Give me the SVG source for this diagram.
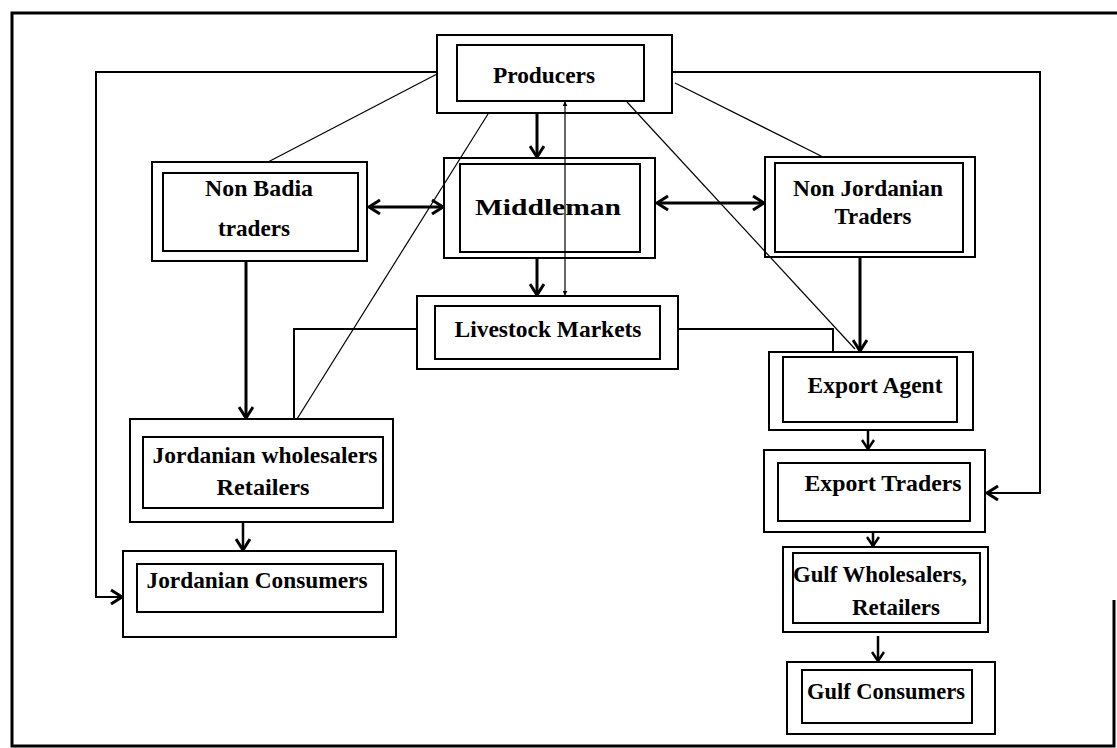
<svg xmlns="http://www.w3.org/2000/svg" width="1117" height="748" viewBox="0 0 1117 748">
<style>
  .box { fill: #fff; stroke: #000; stroke-width: 2; }
  .lbl { font-family: "Liberation Serif", "Times New Roman", serif; font-weight: bold; font-size: 24px; text-anchor: middle; fill: #000; }
  .thick { fill: none; stroke: #000; stroke-width: 3; }
  .mid { fill: none; stroke: #000; stroke-width: 2.5; }
  .loop { fill: none; stroke: #000; stroke-width: 2; }
  .thin { fill: none; stroke: #000; stroke-width: 1.2; }
</style>
<defs>
  <marker id="ah" viewBox="0 0 16 16" refX="14" refY="8" markerWidth="16" markerHeight="16" markerUnits="userSpaceOnUse" orient="auto-start-reverse">
    <path d="M3,1 L14,8 L3,15" fill="none" stroke="#000" stroke-width="3"/>
  </marker>
  <marker id="ahs" viewBox="0 0 14 14" refX="12" refY="7" markerWidth="14" markerHeight="14" markerUnits="userSpaceOnUse" orient="auto-start-reverse">
    <path d="M3,1 L12,7 L3,13" fill="none" stroke="#000" stroke-width="2.5"/>
  </marker>
  <marker id="tiny" viewBox="0 0 6 6" refX="5" refY="3" markerWidth="5" markerHeight="5" markerUnits="userSpaceOnUse" orient="auto-start-reverse">
    <path d="M0,0 L6,3 L0,6 z" fill="#000"/>
  </marker>
</defs>
<rect width="1117" height="748" fill="#fff"/>
<g id="frame">
  <path d="M1117,13 H12 V746 H1114 V600" fill="none" stroke="#000" stroke-width="3"/>
</g>

<g id="producers">
  <rect class="box" x="437" y="35" width="235" height="78"/>
  <rect class="box" x="457" y="45" width="187" height="56"/>
  <text class="lbl" x="544" y="83" textLength="102" lengthAdjust="spacingAndGlyphs">Producers</text>
</g>
<g id="non-badia">
  <rect class="box" x="152" y="162" width="215" height="99"/>
  <rect class="box" x="163" y="173" width="195" height="78"/>
  <text class="lbl" x="259" y="196" textLength="108" lengthAdjust="spacingAndGlyphs">Non Badia</text>
  <text class="lbl" x="254" y="236" textLength="72" lengthAdjust="spacingAndGlyphs">traders</text>
</g>
<g id="middleman">
  <rect class="box" x="444" y="158" width="211" height="100"/>
  <rect class="box" x="460" y="164" width="180" height="88"/>
  <text class="lbl" x="548" y="215" textLength="146" lengthAdjust="spacingAndGlyphs">Middleman</text>
</g>
<g id="non-jordanian">
  <rect class="box" x="765" y="157" width="210" height="100"/>
  <rect class="box" x="775" y="163" width="188" height="89"/>
  <text class="lbl" x="868" y="196" textLength="150" lengthAdjust="spacingAndGlyphs">Non Jordanian</text>
  <text class="lbl" x="873" y="224" textLength="77" lengthAdjust="spacingAndGlyphs">Traders</text>
</g>
<g id="livestock">
  <rect class="box" x="417" y="296" width="261" height="73"/>
  <rect class="box" x="435" y="306" width="225" height="53"/>
  <text class="lbl" x="548" y="337" textLength="187" lengthAdjust="spacingAndGlyphs">Livestock Markets</text>
</g>
<g id="jordanian-wholesalers">
  <rect class="box" x="130" y="419" width="263" height="103"/>
  <rect class="box" x="143" y="437" width="240" height="71"/>
  <text class="lbl" x="265" y="463" textLength="225" lengthAdjust="spacingAndGlyphs">Jordanian wholesalers</text>
  <text class="lbl" x="263" y="495" textLength="93" lengthAdjust="spacingAndGlyphs">Retailers</text>
</g>
<g id="jordanian-consumers">
  <rect class="box" x="123" y="551" width="273" height="86"/>
  <rect class="box" x="137" y="564" width="246" height="48"/>
  <text class="lbl" x="257" y="588" textLength="221" lengthAdjust="spacingAndGlyphs">Jordanian Consumers</text>
</g>
<g id="export-agent">
  <rect class="box" x="769" y="352" width="204" height="78"/>
  <rect class="box" x="783" y="357" width="174" height="65"/>
  <text class="lbl" x="875" y="393" textLength="135" lengthAdjust="spacingAndGlyphs">Export Agent</text>
</g>
<g id="export-traders">
  <rect class="box" x="764" y="450" width="221" height="82"/>
  <rect class="box" x="778" y="463" width="192" height="58"/>
  <text class="lbl" x="883" y="491" textLength="157" lengthAdjust="spacingAndGlyphs">Export Traders</text>
</g>
<g id="gulf-wholesalers">
  <rect class="box" x="783" y="547" width="205" height="85"/>
  <rect class="box" x="793" y="553" width="187" height="70"/>
  <text class="lbl" x="880" y="582" textLength="174" lengthAdjust="spacingAndGlyphs">Gulf Wholesalers,</text>
  <text class="lbl" x="896" y="615" textLength="88" lengthAdjust="spacingAndGlyphs">Retailers</text>
</g>
<g id="gulf-consumers">
  <rect class="box" x="787" y="662" width="208" height="72"/>
  <rect class="box" x="802" y="670" width="170" height="53"/>
  <text class="lbl" x="886" y="699" textLength="158" lengthAdjust="spacingAndGlyphs">Gulf Consumers</text>
</g>

<g id="connectors">
  <line class="thick" x1="537" y1="113" x2="537" y2="157" marker-end="url(#ah)"/>
  <line class="thick" x1="537" y1="258" x2="537" y2="295" marker-end="url(#ah)"/>
  <line class="thick" x1="369" y1="207" x2="443" y2="207" marker-start="url(#ah)" marker-end="url(#ah)"/>
  <line class="thick" x1="657" y1="203" x2="764" y2="203" marker-start="url(#ah)" marker-end="url(#ah)"/>
  <line class="thick" x1="246" y1="261" x2="246" y2="418" marker-end="url(#ah)"/>
  <line class="thick" x1="860" y1="257" x2="860" y2="351" marker-end="url(#ah)"/>
  <line class="mid" x1="243" y1="522" x2="243" y2="550" marker-end="url(#ah)"/>
  <line class="mid" x1="868" y1="430" x2="868" y2="449" marker-end="url(#ahs)"/>
  <line class="mid" x1="873" y1="532" x2="873" y2="546" marker-end="url(#ahs)"/>
  <line class="mid" x1="878" y1="636" x2="878" y2="661" marker-end="url(#ahs)"/>
  <polyline class="loop" points="437,72 96,72 96,597 122,597" marker-end="url(#ah)"/>
  <polyline class="loop" points="672,72 1040,72 1040,493 987,493" marker-end="url(#ah)"/>
  <polyline class="loop" points="417,329 294,329 294,419"/>
  <polyline class="loop" points="678,329 833,329 833,352"/>
  <line class="thin" x1="437" y1="74" x2="268" y2="162"/>
  <line class="thin" x1="675" y1="83" x2="823" y2="157"/>
  <line class="thin" x1="488" y1="114" x2="297" y2="419"/>
  <line class="thin" x1="627" y1="102" x2="855" y2="349"/>
  <line class="thin" x1="565" y1="102" x2="565" y2="295" marker-start="url(#tiny)" marker-end="url(#tiny)"/>
</g>
</svg>
